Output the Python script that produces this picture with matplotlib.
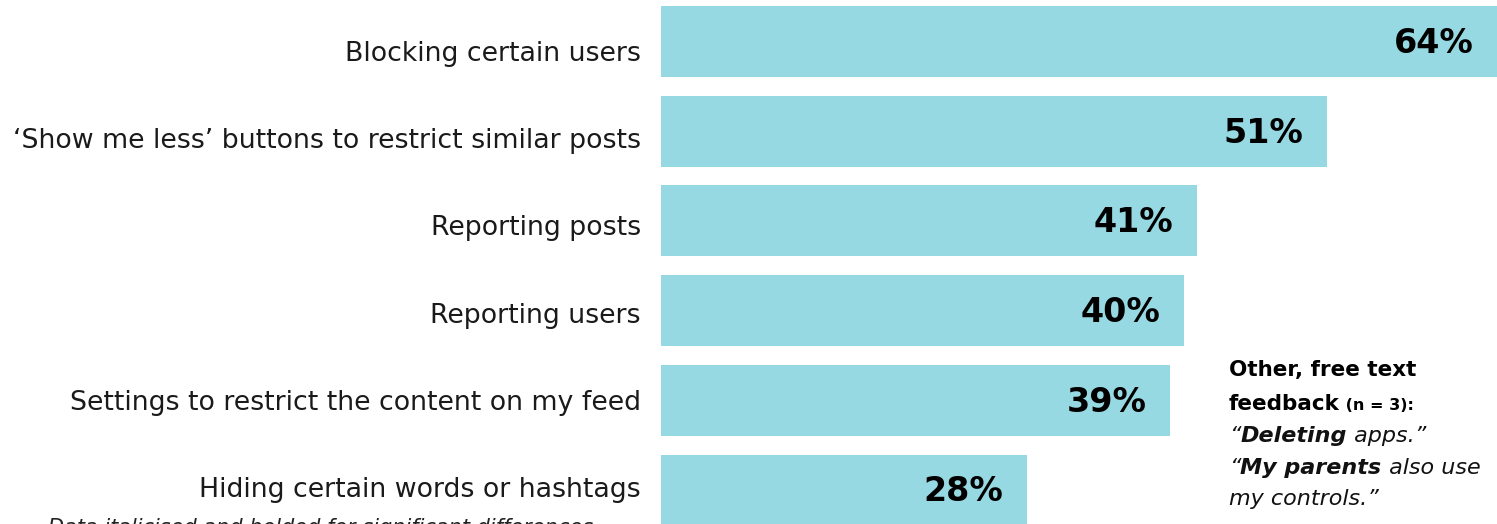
import matplotlib.pyplot as plt

# feature labels and share of respondents (%)
features = ["Blocking certain users",
            "\u2018Show me less\u2019 buttons to restrict similar posts",
            "Reporting posts",
            "Reporting users",
            "Settings to restrict the content on my feed",
            "Hiding certain words or hashtags"]
shares = [64, 51, 41, 40, 39, 28]

bar_color = "#97D9E3"
plt.rcParams['font.family'] = ['DejaVu Sans']

W, H = 1497, 524
fig = plt.figure(figsize=(W / 100, H / 100), dpi=100)
ax = fig.add_axes([661 / W, 0, (W - 661) / W, 1])

pos = list(range(len(features)))
ax.barh(pos, shares, height=0.79, color=bar_color)
ax.set_xlim(0, 64)
ax.set_ylim(5.379, -0.463)
ax.set_xticks([])
ax.set_yticks([])
for s in ax.spines.values():
    s.set_visible(False)

# category labels, set on their own slightly tighter spacing
for i, name in enumerate(features):
    fig.text(641 / W, 1 - (51 + 87.2 * i) / H, name, ha='right',
             va='center_baseline', fontsize=19.3, color="#1a1a1a")

# value labels inside the bar ends
for y, v in zip(pos, shares):
    ax.text(v - 1.8, y + 0.02, f"{v}%", ha='right', va='center',
            fontsize=24, fontweight='bold', color="black")

# free text box on the right
x0 = 1229 / W
fig.text(x0, 1 - 370 / H, "Other, free text", fontsize=15.5, fontweight='bold',
         va='center')
t2 = fig.text(x0, 1 - 410 / H, "feedback", fontsize=15.5, fontweight='bold',
              va='baseline')
fig.canvas.draw()
fig.text(t2.get_window_extent().x1 / W, 1 - 410 / H, " (n = 3):", fontsize=11.5,
         fontweight='bold', va='baseline')


def line(parts, ypix):
    x = x0
    for txt, bold in parts:
        t = fig.text(x, 1 - ypix / H, txt, fontsize=16, style='italic',
                     fontweight='bold' if bold else 'normal', va='baseline',
                     color="#111111")
        fig.canvas.draw()
        x = t.get_window_extent().x1 / W


line([("\u201c", False), ("Deleting", True), (" apps.\u201d", False)], 442)
line([("\u201c", False), ("My parents", True), (" also use", False)], 474)
line([("my controls.\u201d", False)], 505)

# footnote, runs off the bottom edge
fig.text(48 / W, 1 - 534 / H, "Data italicised and bolded for significant differences",
         fontsize=15, style='italic', color="#222222", va='baseline')

fig.savefig("out.png", dpi=100)
